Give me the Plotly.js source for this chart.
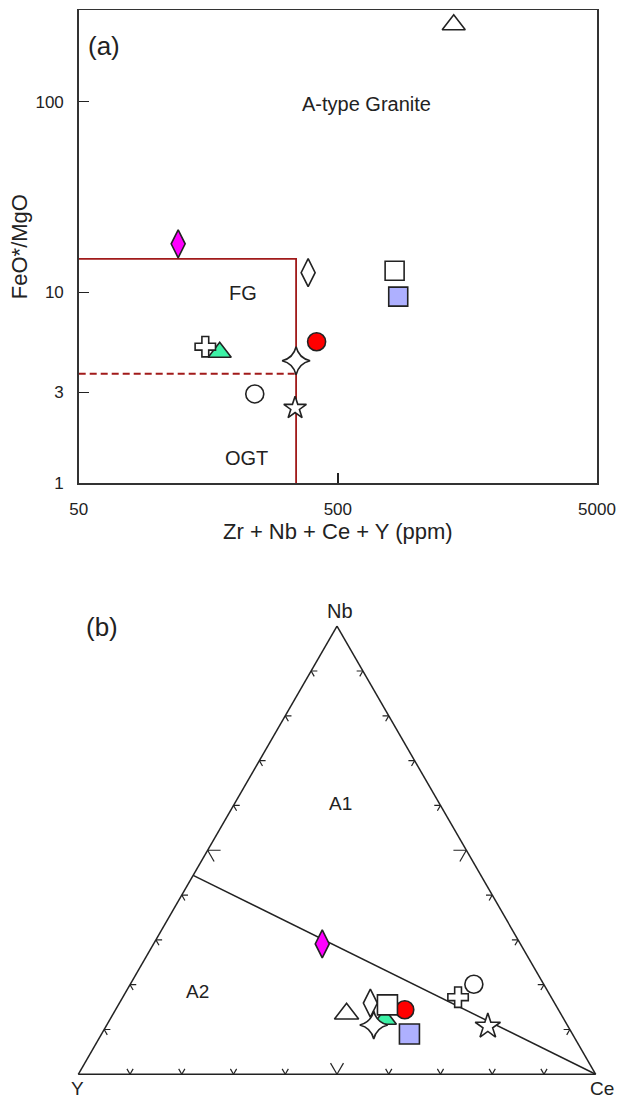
<!DOCTYPE html>
<html>
<head>
<meta charset="utf-8">
<script src="https://cdn.plot.ly/plotly-3.0.1.min.js"></script>
<style>
  html, body { margin: 0; padding: 0; background: #fff; }
  #chart { width: 620px; height: 1101px; }
</style>
</head>
<body>
<div id="chart"></div>
<script>
// ---------------- DATA ----------------
// Samples (same order in both panels)
const sampleIds = ['S1', 'S2', 'S3', 'S4', 'S5', 'S6', 'S7', 'S8', 'S9', 'S10', 'S11'];

// Panel (a): Zr + Nb + Ce + Y (ppm) vs FeO*/MgO
const zrNbCeY = [175, 414, 1400, 384, 828, 345, 855, 121, 154, 239, 342];
const feoMgo  = [4.86, 5.52, 253, 12.7, 13.0, 4.39, 9.52, 18.0, 5.2, 2.94, 2.48];

// Panel (b): Nb - Y - Ce ternary (fractions)
const nbFrac = [0.123, 0.144, 0.135, 0.159, 0.155, 0.110, 0.090, 0.291, 0.172, 0.201, 0.107];
const yFrac  = [0.346, 0.297, 0.414, 0.356, 0.325, 0.374, 0.315, 0.383, 0.180, 0.135, 0.155];
const ceFrac = [0.531, 0.559, 0.451, 0.485, 0.520, 0.516, 0.595, 0.326, 0.648, 0.664, 0.738];

// Field boundaries, panel (a)
const fgBoundaryX  = [50, 345, 345];
const fgBoundaryY  = [15, 15, 1];
const ogtBoundaryX = [50, 345];
const ogtBoundaryY = [3.75, 3.75];

// A1 / A2 boundary, panel (b)
const a1a2Nb = [0.444, 0];
const a1a2Y  = [0.556, 0];
const a1a2Ce = [0, 1];

// Tick labels
const xTickVals = [50, 500, 5000];
const xTickText = ['50', '500', '5000'];
const yTickVals = [1, 3, 10, 100];
const yTickText = ['1', '3', '10', '100'];
const ternaryTickSteps = [0.1, 0.2, 0.3, 0.4, 0.5, 0.6, 0.7, 0.8, 0.9];

// ---------------- STYLE ----------------
const markerSymbols = ['triangle-up', 'circle', 'triangle-up', 'diamond-tall', 'square',
                       'star-diamond', 'square', 'diamond-tall', 'cross', 'circle', 'star'];
const markerColors  = ['#3DF2A6', '#FF0000', '#FFFFFF', '#FFFFFF', '#FFFFFF',
                       '#FFFFFF', '#AEB0FF', '#FF00FF', '#FFFFFF', '#FFFFFF', '#FFFFFF'];
const markerSizes   = [20, 18, 20, 20, 19, 20, 19, 20, 17, 18, 17];
const markerSizesB  = [20, 18, 21, 20, 20, 20, 20, 20, 17, 18, 19];

const FONT = 'Liberation Sans, Arial, Helvetica, sans-serif';
const INK = '#222222';
const W = 620, H = 1101;
const px = v => v / W;
const py = v => 1 - v / H;

// ---------------- TRACES ----------------
const traces = [];

traces.push({
  type: 'scatter', mode: 'lines', x: fgBoundaryX, y: fgBoundaryY,
  line: { color: '#A11A1A', width: 1.8 }, hoverinfo: 'skip', showlegend: false,
  xaxis: 'x', yaxis: 'y'
});
traces.push({
  type: 'scatter', mode: 'lines', x: ogtBoundaryX, y: ogtBoundaryY,
  line: { color: '#A11A1A', width: 1.8, dash: '7px,4px' }, hoverinfo: 'skip', showlegend: false,
  xaxis: 'x', yaxis: 'y'
});
traces.push({
  type: 'scatter', mode: 'markers', x: zrNbCeY, y: feoMgo, text: sampleIds,
  marker: { symbol: markerSymbols, color: markerColors, size: markerSizes, opacity: 1,
            line: { color: INK, width: 1.6 } },
  showlegend: false, cliponaxis: false, xaxis: 'x', yaxis: 'y'
});

// ternary chevron ticks (decoration)
const tA = [], tB = [], tC = [];
function addChevron(p, up, downs, d) {
  for (const dn of downs) {
    const q = p.slice();
    q[up] += d; q[dn] -= d;
    tA.push(q[0]); tB.push(q[1]); tC.push(q[2]);
    tA.push(p[0]); tB.push(p[1]); tC.push(p[2]);
    tA.push(null); tB.push(null); tC.push(null);
  }
}
for (const t of ternaryTickSteps) {
  const d = Math.abs(t - 0.5) < 1e-9 ? 0.025 : 0.012;
  addChevron([0, 1 - t, t], 0, [1, 2], d);   // bottom edge (Y-Ce)
  addChevron([t, 1 - t, 0], 2, [0, 1], d);   // left edge (Y-Nb)
  addChevron([t, 0, 1 - t], 1, [0, 2], d);   // right edge (Nb-Ce)
}
traces.push({
  type: 'scatterternary', mode: 'lines', a: tA, b: tB, c: tC, connectgaps: false,
  line: { color: INK, width: 1.2 }, hoverinfo: 'skip', showlegend: false, subplot: 'ternary'
});
traces.push({
  type: 'scatterternary', mode: 'lines', a: a1a2Nb, b: a1a2Y, c: a1a2Ce,
  line: { color: INK, width: 1.5 }, hoverinfo: 'skip', showlegend: false, subplot: 'ternary'
});
traces.push({
  type: 'scatterternary', mode: 'markers', a: nbFrac, b: yFrac, c: ceFrac, text: sampleIds,
  marker: { symbol: markerSymbols, color: markerColors, size: markerSizesB, opacity: 1,
            line: { color: INK, width: 1.6 } },
  showlegend: false, cliponaxis: false, subplot: 'ternary'
});

// ---------------- LAYOUT ----------------
const tern = {
  showline: true, linecolor: INK, linewidth: 1.5, showgrid: false,
  showticklabels: false, ticks: '', title: { text: '' }
};

const layout = {
  width: W, height: H,
  margin: { l: 0, r: 0, t: 0, b: 0 },
  paper_bgcolor: '#ffffff', plot_bgcolor: '#ffffff',
  font: { family: FONT, color: INK, size: 17 },
  showlegend: false,
  xaxis: {
    type: 'log', domain: [px(78.7), px(597)],
    range: [Math.log10(50), Math.log10(5000)],
    tickvals: xTickVals, ticktext: xTickText,
    ticks: 'inside', ticklen: 10, tickwidth: 1.3, tickcolor: INK,
    ticklabelstandoff: 10,
    showline: true, mirror: true, linecolor: '#333', linewidth: 1.5,
    showgrid: false, zeroline: false,
    tickfont: { family: FONT, size: 17, color: INK },
    title: { text: 'Zr + Nb + Ce + Y (ppm)', font: { family: FONT, size: 22, color: INK }, standoff: 4 }
  },
  yaxis: {
    type: 'log', domain: [py(483.3), py(10)],
    range: [0, 2.4806],
    tickvals: yTickVals, ticktext: yTickText,
    ticks: 'inside', ticklen: 10, tickwidth: 1.3, tickcolor: INK,
    ticklabelstandoff: 10,
    showline: true, mirror: true, linecolor: '#333', linewidth: 1.5,
    showgrid: false, zeroline: false,
    tickfont: { family: FONT, size: 17, color: INK },
    title: { text: 'FeO*/MgO', font: { family: FONT, size: 22, color: INK }, standoff: 1 }
  },
  ternary: {
    sum: 1,
    bgcolor: '#ffffff',
    domain: { x: [px(78.3), px(595.7)], y: [py(1074.3), py(626.2)] },
    aaxis: Object.assign({}, tern),
    baxis: Object.assign({}, tern),
    caxis: Object.assign({}, tern)
  },
  annotations: [
    { text: '(a)', x: px(103.6), y: py(45.8), size: 26 },
    { text: 'A-type Granite', x: px(366.7), y: py(103.5), size: 20 },
    { text: 'FG', x: px(243), y: py(292.5), size: 20 },
    { text: 'OGT', x: px(246.8), y: py(458.3), size: 20 },
    { text: '(b)', x: px(102), y: py(626.5), size: 26 },
    { text: 'Nb', x: px(340), y: py(610.5), size: 20 },
    { text: 'Y', x: px(77.5), y: py(1088.5), size: 19 },
    { text: 'Ce', x: px(601.7), y: py(1088.5), size: 19 },
    { text: 'A1', x: px(340), y: py(803.8), size: 19 },
    { text: 'A2', x: px(197), y: py(991), size: 19 }
  ].map(a => ({
    text: a.text, x: a.x, y: a.y, xref: 'paper', yref: 'paper',
    xanchor: 'center', yanchor: 'middle', showarrow: false,
    font: { family: FONT, size: a.size, color: INK }
  }))
};

Plotly.newPlot('chart', traces, layout, { staticPlot: true, displayModeBar: false });
</script>
</body>
</html>
